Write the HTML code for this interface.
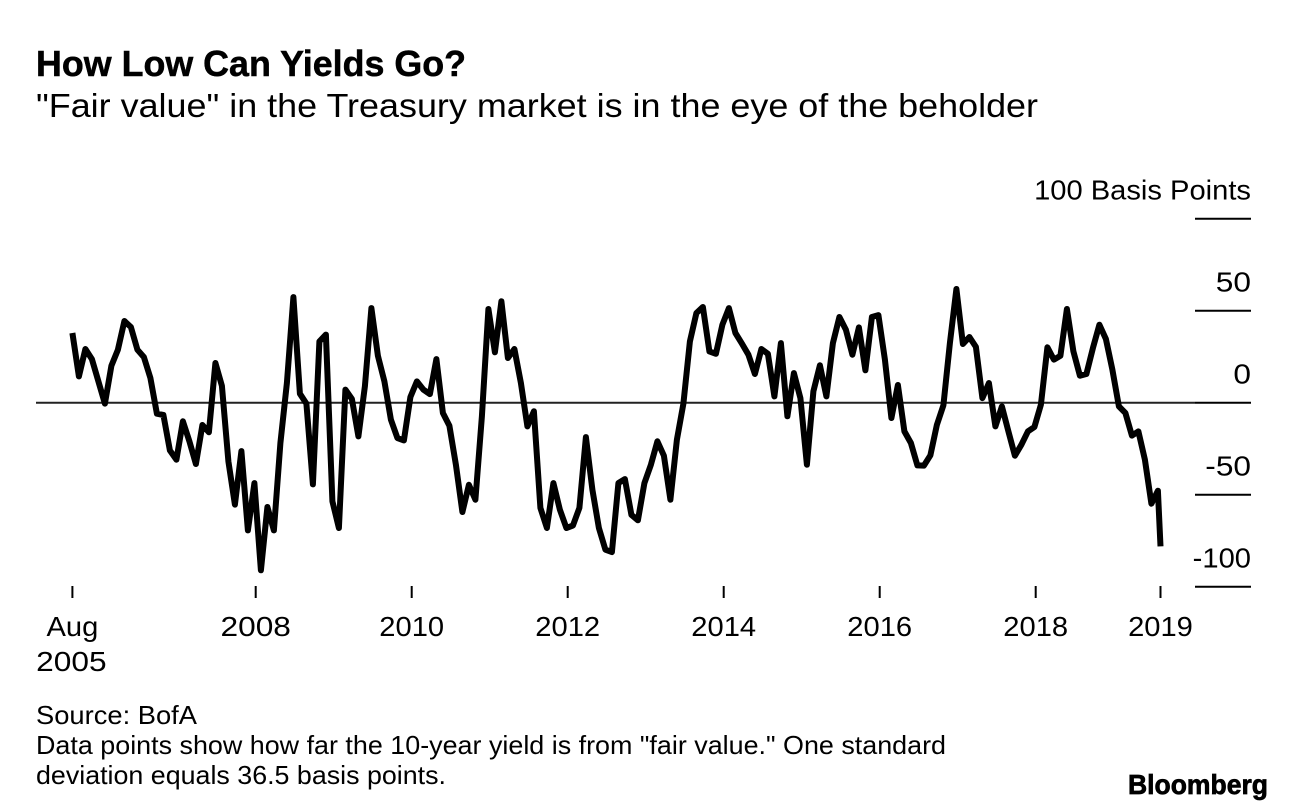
<!DOCTYPE html>
<html lang="en">
<head>
<meta charset="utf-8">
<title>How Low Can Yields Go?</title>
<style>
html,body{margin:0;padding:0;background:#fff;width:1296px;height:804px;overflow:hidden}
svg{display:block}
text{font-family:"Liberation Sans",sans-serif;fill:#000}
</style>
</head>
<body>
<svg id="chart" width="1296" height="804" viewBox="0 0 1296 804" xmlns="http://www.w3.org/2000/svg">
  <rect x="0" y="0" width="1296" height="804" fill="#fff"/>
  <text x="36" y="76" font-size="36" font-weight="700" stroke="#000" stroke-width="0.5" textLength="430" lengthAdjust="spacingAndGlyphs">How Low Can Yields Go?</text>
  <text x="36" y="117" font-size="33" textLength="1002" lengthAdjust="spacingAndGlyphs">"Fair value" in the Treasury market is in the eye of the beholder</text>
  <g id="y-axis"></g>
  <g id="x-axis"></g>
  <g id="series"></g>
  <text x="36" y="724" font-size="26" textLength="161" lengthAdjust="spacingAndGlyphs">Source: BofA</text>
  <text x="36" y="754" font-size="26" textLength="910" lengthAdjust="spacingAndGlyphs">Data points show how far the 10-year yield is from "fair value." One standard</text>
  <text x="36" y="784" font-size="26" textLength="410" lengthAdjust="spacingAndGlyphs">deviation equals 36.5 basis points.</text>
  <text x="1128" y="794" font-size="28" font-weight="700" stroke="#000" stroke-width="0.7" textLength="140" lengthAdjust="spacingAndGlyphs">Bloomberg</text>
</svg>
<script>
const fairValueGap = [
37.9,14.3,29.2,23.7,11.6,-0.5,20.1,28.8,44.4,41.1,
28.8,24.8,13.4,-6.0,-6.7,-25.9,-31.0,-10.1,-21.0,-33.3,
-12.1,-16.1,21.6,9.2,-31.9,-55.4,-26.3,-69.4,-43.7,-91.1,
-56.7,-69.4,-21.9,10.7,57.4,4.9,-0.5,-44.4,33.3,37.0,
-53.6,-68.1,7.1,2.0,-18.3,8.9,51.4,25.5,11.6,-9.2,
-19.2,-20.5,3.1,11.6,7.1,4.7,23.7,-5.6,-12.5,-33.7,
-59.4,-44.6,-52.7,-7.4,50.9,27.4,55.1,24.3,29.2,10.7,
-12.9,-4.7,-57.2,-68.1,-43.7,-58.2,-68.1,-66.8,-57.2,-18.7,
-47.3,-68.1,-79.9,-81.2,-43.7,-41.5,-60.9,-63.9,-43.7,-33.7,
-21.0,-28.8,-52.7,-20.1,-0.5,33.3,48.7,52.0,27.9,26.6,
42.4,51.4,37.9,32.1,26.1,15.6,29.2,26.6,3.4,32.4,
-7.4,16.1,2.5,-33.7,6.2,20.3,3.4,32.4,46.6,39.7,
26.1,40.9,17.6,46.6,47.6,23.4,-8.3,9.6,-15.6,-21.9,
-34.1,-34.2,-28.6,-12.0,-1.4,32.4,61.8,31.9,35.7,30.3,
2.5,10.7,-12.9,-2.0,-15.6,-28.8,-22.8,-15.6,-13.2,-1.1,
30.1,23.4,25.5,50.9,27.9,14.7,15.6,29.7,42.4,34.6,
17.9,-2.0,-5.6,-17.9,-15.6,-31.0,-54.9,-47.8,-78.1
];
const finalObservationPeriod = 167.4;
const yTickValues = [100, 50, 0, -50, -100];
const yTickLabels = ["100 Basis Points", "50", "0", "-50", "-100"];
const xTickPeriods = [0, 28.2, 52.2, 76.2, 100.2, 124.2, 148.2, 167.4];
const xTickLabels = ["Aug", "2008", "2010", "2012", "2014", "2016", "2018", "2019"];
const xTickSublabels = ["2005", "", "", "", "", "", "", ""];

const NS = "http://www.w3.org/2000/svg";
const xScale = function (period) { return 72.4 + 6.5 * period; };
const yScale = function (value) { return 402.7 - 1.84 * value; };

function make(tag, attrs, parent) {
  const el = document.createElementNS(NS, tag);
  Object.keys(attrs).forEach(function (k) { el.setAttribute(k, attrs[k]); });
  parent.appendChild(el);
  return el;
}

/* The reference typeface has wider digits than Liberation, except for the narrow 1. */
function fitLabel(el) {
  const text = el.textContent;
  const factor = (/1/.test(text) || !/^[-\d]+$/.test(text)) ? 1.04 : 1.13;
  el.setAttribute("textLength", (el.getComputedTextLength() * factor).toFixed(1));
  el.setAttribute("lengthAdjust", "spacingAndGlyphs");
}

const yAxis = document.getElementById("y-axis");
const zero = make("line", {x1: 36, x2: 1195, y1: yScale(0), y2: yScale(0), stroke: "#222", "stroke-width": 2}, yAxis);



yTickValues.forEach(function (value, i) {
  const y = yScale(value);
  const tick = make("line", {x1: 1195, x2: 1251, y1: y, y2: y, stroke: "#000", "stroke-width": 2}, yAxis);
  
  
  const label = make("text", {x: 1251, y: y - 19, "font-size": 28, "text-anchor": "end"}, yAxis);
  label.textContent = yTickLabels[i];
  
  
  fitLabel(label);
});

const xAxis = document.getElementById("x-axis");
xTickPeriods.forEach(function (period, i) {
  const x = xScale(period);
  const tick = make("line", {x1: x, x2: x, y1: 586, y2: 598, stroke: "#000", "stroke-width": 2}, xAxis);
  
  
  const label = make("text", {x: x, y: 636, "font-size": 28, "text-anchor": "middle"}, xAxis);
  label.textContent = xTickLabels[i];
  
  
  fitLabel(label);
  if (xTickSublabels[i]) {
    const sub = make("text", {x: x - 1, y: 671, "font-size": 28, "text-anchor": "middle"}, xAxis);
    sub.textContent = xTickSublabels[i];
    
    
    fitLabel(sub);
  }
});

const lastIndex = fairValueGap.length - 1;
const points = fairValueGap.map(function (value, i) {
  const period = i === lastIndex ? finalObservationPeriod : i;
  return xScale(period).toFixed(1) + "," + yScale(value).toFixed(1);
}).join(" ");
const line = make("polyline", {points: points, fill: "none", stroke: "#000", "stroke-width": 6, "stroke-linejoin": "round", "stroke-linecap": "butt"}, document.getElementById("series"));


</script>
</body>
</html>
